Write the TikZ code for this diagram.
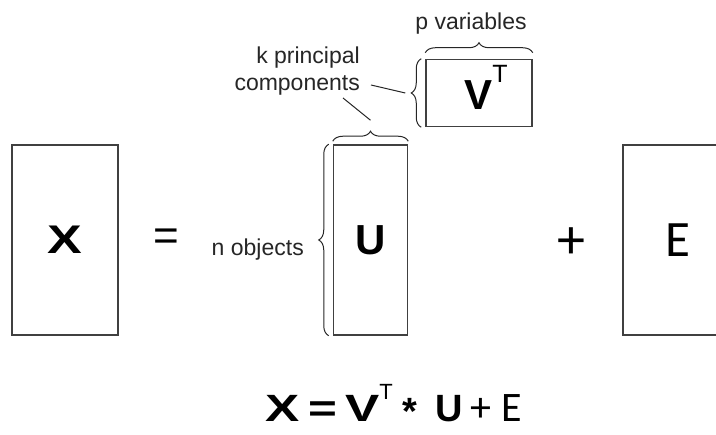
\documentclass[tikz,border=0pt]{standalone}
\usepackage{fontspec}
\setmainfont{Liberation Sans}
\newfontfamily\calib{Carlito}
\usepackage{graphicx}
\usetikzlibrary{positioning,decorations.pathreplacing}

\begin{document}
\begin{tikzpicture}[
        x=1pt, y=1pt,
        mbox/.style={rectangle, draw=black!75, line width=1.5pt, inner sep=0pt, minimum height=190pt},
        big/.style={font=\fontsize{40}{40}\selectfont\bfseries},
        lbl/.style={font=\fontsize{23}{27}\selectfont, text=black!85, inner sep=0pt},
        curly/.style={decorate, decoration={brace, amplitude=10pt}, line width=1pt, black!85},
        leader/.style={line width=1pt, black!85}
    ]
        \useasboundingbox (0,0) rectangle (716,435);
        \clip (0,0) rectangle (716,435);

        % Matrices
        \node[mbox, minimum width=106pt] (X) at (65,195) {};
        \node[mbox, minimum width=74pt, right=214pt of X] (U) {};
        \node[mbox, minimum width=110pt, right=214pt of U] (E) {};
        \node[mbox, minimum width=106pt, minimum height=67pt, above right=17pt and 17pt of U.north east] (V) {};

        % Entries
        \node[big] (xl) at (X) {\scalebox{1.3}[1]{X}};
        \node[big, font=\fontsize{42}{42}\selectfont\bfseries] (ul) at (U) {U};
        \node[font=\fontsize{51}{51}\selectfont\calib] (el) at (E) {E};
        \node[big, font=\fontsize{42}{42}\selectfont\bfseries, anchor=base west, inner sep=0pt] (vl) at ([xshift=39pt,yshift=18pt]V.south west) {V\raisebox{27pt}{\mdseries\fontsize{25}{25}\selectfont T}};

        % Operators
        \node[font=\fontsize{44}{44}\selectfont] (eq) at (166,195) {=};
        \node[font=\fontsize{56}{56}\selectfont\calib] (plus) at (571,192) {+};

        % Labels
        \node[lbl, anchor=base east] (nobj) at (304,179) {n objects};
        \node[lbl, align=right, anchor=south east] (kpc) at (360,340) {k principal\\components};
        \node[lbl, anchor=base] (pvar) at (471,405) {p variables};

        % Braces
        \draw[curly] ([xshift=-4pt]U.south west) -- ([xshift=-4pt]U.north west);
        \draw[curly] ([yshift=3pt]U.north west) -- ([yshift=3pt]U.north east);
        \draw[curly] ([xshift=-4pt]V.south west) -- ([xshift=-4pt]V.north west);
        \draw[curly] ([yshift=6pt]V.north west) -- ([yshift=6pt]V.north east);

        % Leaders
        \coordinate (vtip) at ([xshift=-20pt]V.west);
        \coordinate (utip) at ([yshift=24pt]U.north);
        \draw[leader] ([shift={(11pt,10pt)}]kpc.south east) -- (vtip);
        \draw[leader] ([shift={(-17pt,-3pt)}]kpc.south east) -- (utip);

        % Model
        \node[font=\fontsize{38}{38}\selectfont\bfseries, anchor=base west, inner sep=0pt] (model) at (265,13) {\scalebox{1.35}[1]{X}\hspace{9pt}\scalebox{1.3}[1]{=}\hspace{8pt}\scalebox{1.35}[1]{V}\raisebox{22pt}{\mdseries\fontsize{22}{22}\selectfont T}\hspace{9.5pt}\raisebox{-3pt}[\height][0pt]{*}\hspace{18pt}U\hspace{8pt}{\calib\mdseries\fontsize{42}{42}\selectfont +\hspace{10pt}E}};
    \end{tikzpicture}
\end{document}
